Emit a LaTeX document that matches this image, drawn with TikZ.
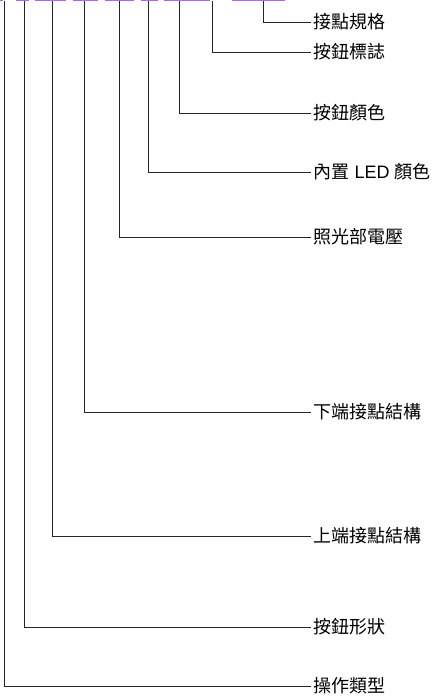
\documentclass[tikz,border=0pt]{standalone}
\usepackage{fontspec}
\setmainfont{Liberation Sans}
\newfontfamily\cjk{Noto Sans CJK TC}
\newfontfamily\latn{Liberation Sans}
\definecolor{barpurple}{RGB}{160,115,195}
\begin{document}
\begin{tikzpicture}[x=1pt,y=-1pt,
  conn/.style={draw=black!85,line width=0.9pt},
  lbl/.style={anchor=west,inner xsep=3pt,inner ysep=0pt,font=\cjk\fontsize{18}{21}\selectfont},
  bar/.style={fill=barpurple,draw=none}]
\useasboundingbox (0,0) rectangle (434,697);
% purple bars at top
\foreach \a/\b in {0/3,16/29,35/66,73/98,105/134,141/158,164/210,232/285}
  \fill[bar] (\a,0) rectangle (\b,1.4);
% top coordinates
\coordinate (t1) at (263,1.4);
\coordinate (t2) at (212,1.4);
\coordinate (t3) at (179,1.4);
\coordinate (t4) at (148,1.4);
\coordinate (t5) at (119,1.4);
\coordinate (t6) at (84,1.4);
\coordinate (t7) at (52,1.4);
\coordinate (t8) at (24,1.4);
\coordinate (t9) at (4,1.4);
% labels
\node[lbl] (l1) at (310.5,22) {接點規格};
\node[lbl] (l2) at (310.5,52) {按鈕標誌};
\node[lbl] (l3) at (310.5,113) {按鈕顏色};
\node[lbl] (l4) at (310.5,172) {內置{\latn{} LED }顏色};
\node[lbl] (l5) at (310.5,237) {照光部電壓};
\node[lbl] (l6) at (310.5,412) {下端接點結構};
\node[lbl] (l7) at (310.5,536) {上端接點結構};
\node[lbl] (l8) at (310.5,627) {按鈕形狀};
\node[lbl] (l9) at (310.5,686) {操作類型};
% connectors
\foreach \i in {1,...,9}
  \draw[conn] (t\i) |- (l\i.west);
\end{tikzpicture}
\end{document}
